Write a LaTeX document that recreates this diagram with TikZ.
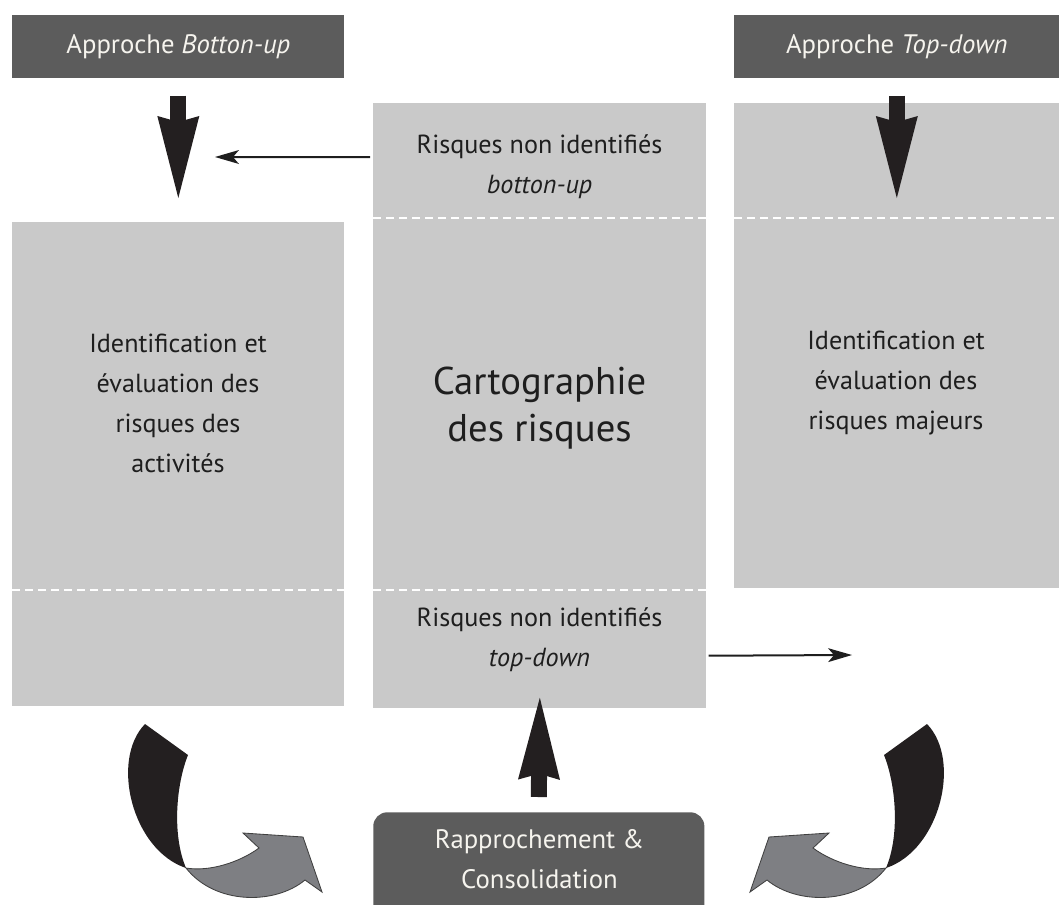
\documentclass[tikz,border=0pt]{standalone}
\usepackage{fontspec}
\setmainfont{PT Sans}
\usetikzlibrary{arrows.meta}
\definecolor{boxgrey}{HTML}{C9C9C9}
\definecolor{headgrey}{HTML}{5C5C5C}
\definecolor{ink}{HTML}{1E1E1E}
\definecolor{ribbonblack}{HTML}{231F20}
\definecolor{ribbongrey}{HTML}{7E7F83}
\definecolor{paper}{HTML}{F6F4EE}

% curved two-tone arrow (black ribbon turning into a grey arrow)
\newcommand\drawribbon{%
  \filldraw[fill=ribbongrey, draw=ink!85, line width=0.6pt]
    (186,868) .. controls (210,872) and (240,862) .. (259,848)
    -- (243,833) -- (303,837) -- (322,892) -- (305,880)
    .. controls (275,905) and (215,905) .. (186,868) -- cycle;
  \fill[ribbonblack]
    (145,724) -- (188,755)
    .. controls (176,785) and (172,835) .. (186,868)
    .. controls (132,850) and (110,760) .. (145,724) -- cycle;
}

\begin{document}
\begin{tikzpicture}[x=0.025cm, y=-0.025cm,
  panel/.style={fill=boxgrey, draw=none, inner sep=0pt, anchor=north west},
  header/.style={fill=headgrey, draw=none, inner sep=0pt, anchor=north west,
    minimum height=1.575cm},
  txt/.style={text=ink, align=center, inner sep=0pt,
    font=\fontsize{18.6}{28.4}\selectfont},
  headtxt/.style={text=paper, align=center, inner sep=0pt,
    font=\fontsize{19}{28.4}\selectfont},
  bigtxt/.style={text=ink, align=center, inner sep=0pt,
    font=\fontsize{27.5}{33.5}\selectfont},
  sep/.style={draw=white, line width=0.05cm, dash pattern=on 0.2cm off 0.125cm},
  bigarrow/.style={draw=ribbonblack, line width=0.4cm,
    -{Stealth[length=2.05cm, width=1.05cm, inset=0.15cm, line width=0pt]}},
  thinarrow/.style={draw=ink, line width=0.05cm,
    -{Stealth[length=0.6cm, width=0.35cm, inset=0.15cm, line width=0pt]}}]

\useasboundingbox (0,0) rectangle (1059,904);
\clip (0,0) rectangle (1059,904);

% headers
\node[header, minimum width=8.3cm] (hdrL) at (12,15) {};
\node[header, minimum width=8.125cm] (hdrR) at (734,15) {};
\node[headtxt] (hdrLtxt) at (hdrL.center) {Approche \textit{Botton-up}};
\node[headtxt] (hdrRtxt) at (hdrR.center) {Approche \textit{Top-down}};

% grey panels
\node[panel, minimum width=8.3cm, minimum height=12.1cm] (boxL) at (12,222) {};
\node[panel, minimum width=8.325cm, minimum height=15.125cm] (mid) at (373,103) {};
\node[panel, minimum width=8.125cm, minimum height=12.125cm] (boxR) at (734,103) {};

% dashed separations
\draw[sep] (12,590) -- (344,590);
\draw[sep] (373,218) -- (706,218);
\draw[sep] (373,590) -- (706,590);
\draw[sep] (734,218) -- (1059,218);

% bottom box
\node[fill=headgrey, draw=none, rounded corners=0.35cm, inner sep=0pt,
  anchor=north west, minimum width=8.275cm, minimum height=2.95cm] (cons) at (373,812) {};

% texts
\node[txt] (midtop) at (539.5,167) {Risques non identifiés\\\textit{botton-up}};
\node[txt] (leftt) at (178,403) {Identification et\\évaluation des\\risques des\\activités};
\node[bigtxt] (carto) at (539.5,408) {Cartographie\\des risques};
\node[txt] (rightt) at (896,383) {Identification et\\évaluation des\\risques majeurs};
\node[txt] (midbot) at (539.5,640) {Risques non identifiés\\\textit{top-down}};
\node[headtxt] (constxt) at (539.5,859) {Rapprochement \&\\Consolidation};

% free ends of the thin arrows
\coordinate (buEnd) at (215,157);
\coordinate (tdEnd) at (852,655);

% block arrows
\draw[bigarrow] ([yshift=-0.425cm]hdrL.south) -- ([yshift=0.6cm]boxL.north);
\draw[bigarrow] ([yshift=-0.425cm]hdrR.south) -- ([yshift=-2.375cm]boxR.north);
\draw[bigarrow] ([yshift=0.375cm]cons.north) -- ([yshift=0.275cm]mid.south);

% thin arrows
\draw[thinarrow] ([yshift=-1.35cm, xshift=-0.075cm]mid.north west) -- (buEnd);
\draw[thinarrow] ([yshift=1.325cm, xshift=0.05cm]mid.south east) -- (tdEnd);

% curved arrows towards the consolidation box
\drawribbon
\begin{scope}[shift={(1072,0)}, xscale=-1]
  \drawribbon
\end{scope}

\end{tikzpicture}
\end{document}
